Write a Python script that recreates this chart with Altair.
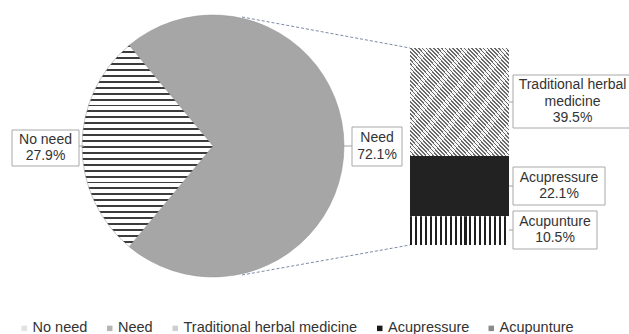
import math
import altair as alt
import pandas as pd

# ---------------- data ----------------
pie_categories = ["Need", "No need"]
pie_values = [72.1, 27.9]
bar_categories = ["Traditional herbal medicine", "Acupressure", "Acupunture"]
bar_values = [39.5, 22.1, 10.5]
bar_label_lines = ["Traditional herbal\nmedicine", "Acupressure", "Acupunture"]
legend_order = ["No need", "Need", "Traditional herbal medicine", "Acupressure", "Acupunture"]

FONT = "Liberation Sans"
LH = 16.5


def stripes(n, dark, light, frac, x1, y1, x2, y2):
    stops = []
    for i in range(n):
        a = round(i / n, 5)
        b = round((i + frac) / n, 5)
        c = round((i + 1) / n, 5)
        stops += [
            {"offset": a, "color": dark},
            {"offset": b, "color": dark},
            {"offset": b, "color": light},
            {"offset": c, "color": light},
        ]
    return {"gradient": "linear", "x1": x1, "y1": y1, "x2": x2, "y2": y2, "stops": stops}


h_stripes = stripes(34, "#3c3c3c", "#ffffff", 0.32, 0, 0, 0, 1)
d_stripes = stripes(52, "#6a6a6a", "#f6f6f6", 0.42, 0, 1, 1, 0)
v_stripes = stripes(20, "#1e1e1e", "#ffffff", 0.42, 0, 0, 1, 0)

pie_df = pd.DataFrame({"cat": pie_categories, "value": pie_values, "i": list(range(len(pie_values))),
                       "label": pie_categories})
bar_df = pd.DataFrame({"cat": bar_categories, "value": bar_values, "i": list(range(len(bar_values))),
                       "label": bar_label_lines})
legend_df = pd.DataFrame({"cat": legend_order})

total = sum(bar_values)

# pie: "No need" slice centred on the left side
start = math.radians(270 + pie_values[1] / 100 * 360 / 2)
CX, CY, R = 213, 146, 131

pie = alt.Chart(pie_df).mark_arc(outerRadius=R, stroke="#8f8f8f", strokeWidth=0.5).encode(
    theta=alt.Theta("value:Q", stack=True, scale=alt.Scale(domain=[0, 100], range=[start, start + 2 * math.pi])),
    order=alt.Order("i:Q"),
    x=alt.value(CX),
    y=alt.value(CY),
    fill=alt.condition("datum.cat === 'No need'", alt.value(h_stripes), alt.value("#a6a6a6")),
)

bar_fill = (
    alt.when(alt.datum.cat == "Traditional herbal medicine").then(alt.value(d_stripes))
    .when(alt.datum.cat == "Acupunture").then(alt.value(v_stripes))
    .otherwise(alt.value("#222222"))
)

bars = alt.Chart(bar_df).transform_stack(
    stack="value", groupby=[], as_=["y0", "y1"], sort=[alt.SortField("i", order="descending")]
).mark_rect().encode(
    x=alt.value(410),
    x2=alt.value(509),
    y=alt.Y("y0:Q", scale=alt.Scale(domain=[0, total], range=[245, 48]), axis=None),
    y2="y1:Q",
    fill=bar_fill,
)

one = pd.DataFrame({"k": [0]})


def dashed(x1, y1, x2, y2):
    return alt.Chart(one).mark_rule(strokeDash=[3, 2], color="#7d8ba6", strokeWidth=1).encode(
        x=alt.value(x1), y=alt.value(y1), x2=alt.value(x2), y2=alt.value(y2))


def leader(x1, y1, x2, y2):
    return alt.Chart(one).mark_rule(color="#a0a0a0", strokeWidth=1).encode(
        x=alt.value(x1), y=alt.value(y1), x2=alt.value(x2), y2=alt.value(y2))


def callout(df, cat, x1, y1, x2, y2):
    label = df.loc[df["cat"] == cat, "label"].iloc[0]
    nlines = label.count("\n") + 2
    base = alt.Chart(df).transform_filter(alt.datum.cat == cat).transform_calculate(
        txt="datum.label + '\\n' + format(datum.value, '.1f') + '%'"
    )
    box = base.mark_rect(fill="white", stroke="#a8a8a8", strokeWidth=1).encode(
        x=alt.value(x1), x2=alt.value(x2), y=alt.value(y1), y2=alt.value(y2))
    txt = base.mark_text(font=FONT, fontSize=14, lineHeight=LH, align="center", baseline="middle",
                         color="#333333", lineBreak="\n", dy=-(nlines - 1) * LH / 2).encode(
        x=alt.value((x1 + min(x2, 632)) / 2), y=alt.value((y1 + y2) / 2), text="txt:N")
    return box + txt


legend_layer = alt.Chart(legend_df).mark_square(opacity=0, size=1).encode(
    x=alt.value(0), y=alt.value(0),
    color=alt.Color("cat:N",
                    scale=alt.Scale(domain=legend_order,
                                    range=["#e2e2e2", "#b5b5b5", "#cfcfcf", "#1a1a1a", "#8a8a8a"]),
                    legend=alt.Legend(title=None, orient="none", legendX=17, legendY=321, direction="horizontal",
                                      symbolType="square", symbolSize=30, symbolOpacity=1,
                                      symbolStrokeWidth=0, labelFont=FONT, labelFontSize=14.5,
                                      labelColor="#333333", labelOffset=1, labelLimit=400,
                                      columnPadding=14.5)),
)

chart = alt.layer(
    pie,
    dashed(242, 17, 410, 48),
    dashed(242, 275, 410, 245),
    bars,
    leader(79, 146, 84, 146),
    leader(344, 146, 352, 146),
    leader(509, 102, 513, 102),
    leader(509, 186, 513, 186),
    leader(509, 230, 513, 230),
    callout(pie_df, "No need", 12, 130, 79, 166),
    callout(pie_df, "Need", 352, 127, 402, 166),
    callout(bar_df, "Traditional herbal medicine", 513, 75, 640, 128),
    callout(bar_df, "Acupressure", 513, 167, 605, 205),
    callout(bar_df, "Acupunture", 513, 211, 597, 249),
    legend_layer,
).properties(width=629, height=334, padding=0, autosize="none").configure_view(stroke=None)

chart.save("out.html", embed_options={"renderer": "svg", "actions": False})
